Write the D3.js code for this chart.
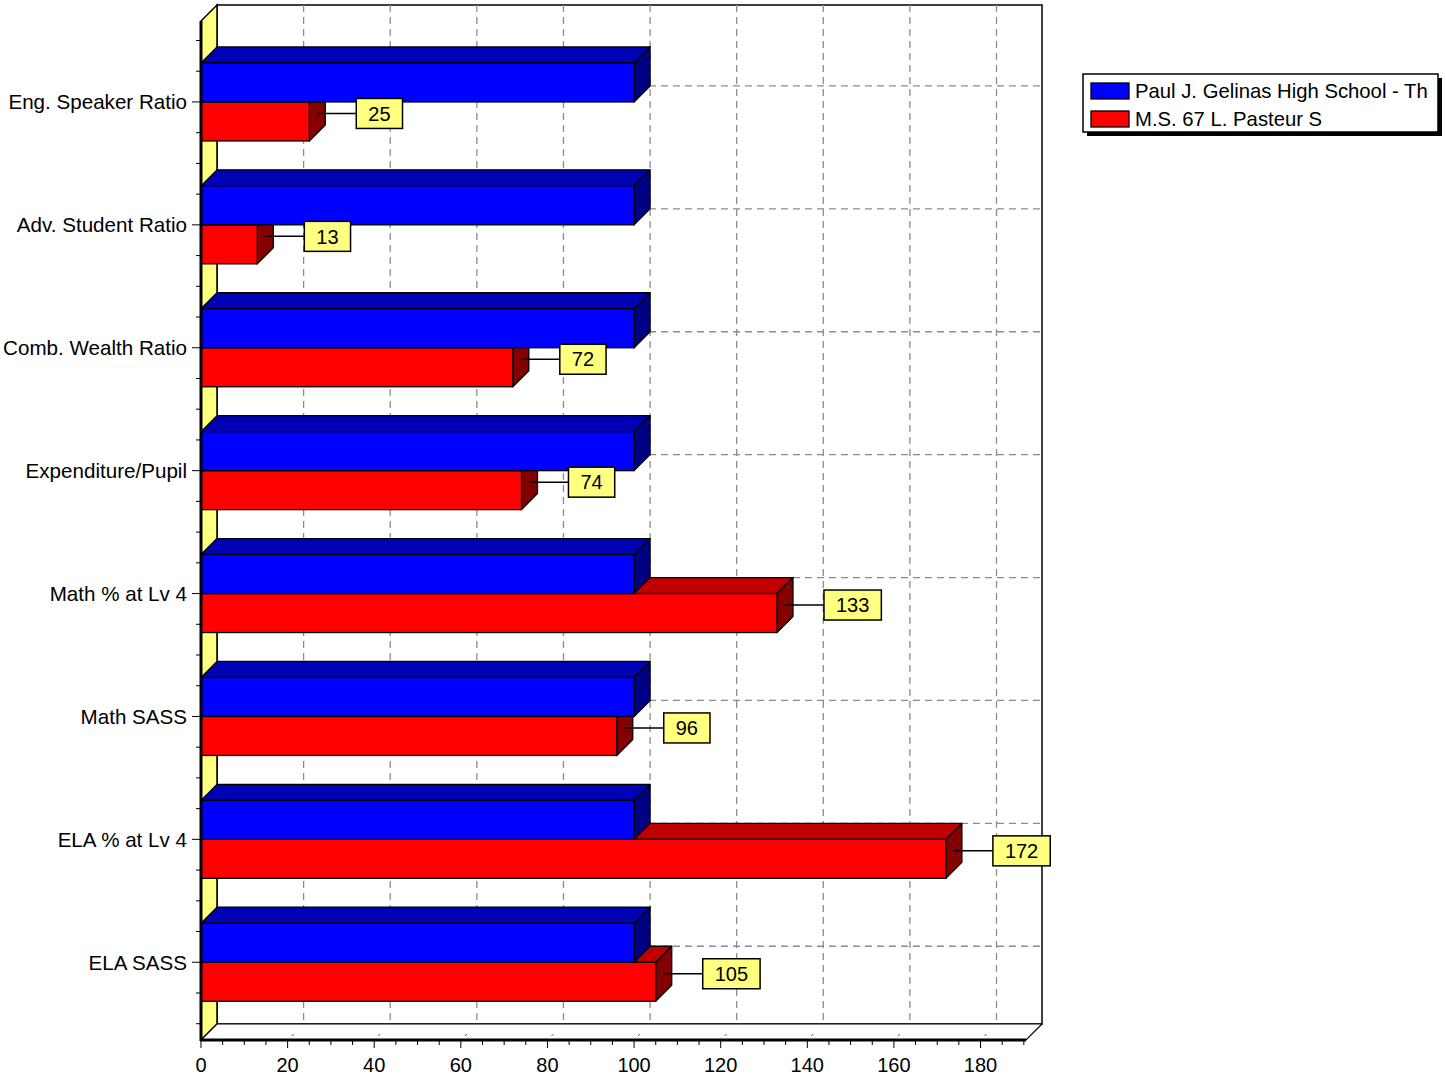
<!DOCTYPE html>
<html>
<head>
<meta charset="utf-8">
<script src="https://cdn.jsdelivr.net/npm/d3@7"></script>
<style>
  html, body { margin: 0; padding: 0; background: #fff; }
  svg { display: block; }
  text { font-family: Arial, "Liberation Sans", sans-serif; fill: #000; }
</style>
</head>
<body>
<svg id="chart" width="1446" height="1081"></svg>
<script>
// Category names (top to bottom)
const categories = [
  "Eng. Speaker Ratio",
  "Adv. Student Ratio",
  "Comb. Wealth Ratio",
  "Expenditure/Pupil",
  "Math % at Lv 4",
  "Math SASS",
  "ELA % at Lv 4",
  "ELA SASS"
];
// Series values
const gelinasValues = [100, 100, 100, 100, 100, 100, 100, 100];
const pasteurValues = [25, 13, 72, 74, 133, 96, 172, 105];
const seriesNames = ["Paul J. Gelinas High School - Th", "M.S. 67 L. Pasteur S"];
// Axis ticks
const xTicks = [0, 20, 40, 60, 80, 100, 120, 140, 160, 180];
const xMinorStep = 5;

const svg = d3.select("#chart");

// Layout
const D = 16;                 // 3D depth offset (right and up)
const plotL = 201, plotR = 1026, plotT = 21, plotB = 1040;
const x = d3.scaleLinear().domain([0, 190.5]).range([plotL, plotR]);
const y = d3.scaleBand().domain(categories).range([40.5, 1023.7]);
const barH = 39;
const center = c => y(c) + y.bandwidth() / 2;

const colors = {
  blue:  { front: "#0000ff", top: "#0000b4", side: "#000084" },
  red:   { front: "#ff0000", top: "#c00000", side: "#840000" }
};
const gridColor = "#8c8c8c";
const dash = "7,5";

// Back wall
svg.append("rect")
  .attr("x", plotL + D).attr("y", plotT - D)
  .attr("width", plotR - plotL).attr("height", plotB - plotT)
  .attr("fill", "#fff").attr("stroke", "#000").attr("stroke-width", 1.5);

// Back wall gridlines (vertical at value ticks, horizontal at category centers)
svg.append("g").selectAll("line")
  .data(xTicks.filter(t => t > 0))
  .join("line")
  .attr("x1", d => x(d) + D).attr("x2", d => x(d) + D)
  .attr("y1", plotT - D).attr("y2", plotB - D)
  .attr("stroke", gridColor).attr("stroke-width", 1.3).attr("stroke-dasharray", dash);

svg.append("g").selectAll("line")
  .data(categories)
  .join("line")
  .attr("x1", plotL + D).attr("x2", plotR + D)
  .attr("y1", d => center(d) - D).attr("y2", d => center(d) - D)
  .attr("stroke", gridColor).attr("stroke-width", 1.3).attr("stroke-dasharray", dash);

// Left wall
svg.append("path")
  .attr("d", `M${plotL},${plotT} L${plotL + D},${plotT - D} L${plotL + D},${plotB - D} L${plotL},${plotB} Z`)
  .attr("fill", "#ffff80").attr("stroke", "#000").attr("stroke-width", 1.5);

// Floor
svg.append("path")
  .attr("d", `M${plotL},${plotB} L${plotL + D},${plotB - D} L${plotR + D},${plotB - D} L${plotR},${plotB} Z`)
  .attr("fill", "#fff").attr("stroke", "#000").attr("stroke-width", 1.2);

// Small slanted tick marks on the floor
svg.append("g").selectAll("line")
  .data(xTicks.filter(t => t > 0))
  .join("line")
  .attr("x1", d => x(d) + 4).attr("y1", plotB - 4)
  .attr("x2", d => x(d) + 6).attr("y2", plotB - 6)
  .attr("stroke", "#555").attr("stroke-width", 1);

// 3D bar helper
function bar3d(g, v, yTop, col) {
  const x0 = x(0), x1 = x(v), y0 = yTop, y1 = yTop + barH;
  g.append("path")
    .attr("d", `M${x0},${y0} L${x0 + D},${y0 - D} L${x1 + D},${y0 - D} L${x1},${y0} Z`)
    .attr("fill", col.top).attr("stroke", "#000").attr("stroke-width", 1.3).attr("stroke-linejoin", "round");
  g.append("path")
    .attr("d", `M${x1},${y0} L${x1 + D},${y0 - D} L${x1 + D},${y1 - D} L${x1},${y1} Z`)
    .attr("fill", col.side).attr("stroke", "#000").attr("stroke-width", 1.3).attr("stroke-linejoin", "round");
  g.append("rect")
    .attr("x", x0).attr("y", y0).attr("width", x1 - x0).attr("height", barH)
    .attr("fill", col.front).attr("stroke", "#000").attr("stroke-width", 1.3);
}

const bars = svg.append("g");
categories.forEach((c, i) => {
  const g = bars.append("g");
  const cy = center(c);
  // lower series first so the upper bar covers its top face
  bar3d(g, pasteurValues[i], cy, colors.red);
  bar3d(g, gelinasValues[i], cy - barH, colors.blue);
});

// Value callouts for the second series
const callouts = svg.append("g");
categories.forEach((c, i) => {
  const v = pasteurValues[i];
  const cy = center(c) + barH / 2 - D / 2;
  const sx = x(v) + D / 2;
  const bx = x(v) + 47;
  const g = callouts.append("g");
  g.append("line")
    .attr("x1", sx).attr("x2", bx).attr("y1", cy).attr("y2", cy)
    .attr("stroke", "#000").attr("stroke-width", 1.5);
  const rect = g.append("rect");
  const t = g.append("text")
    .attr("y", cy).attr("dy", "0.36em")
    .attr("text-anchor", "middle")
    .style("font-size", "20px")
    .text(v);
  const w = t.node().getComputedTextLength() + 24;
  t.attr("x", bx + w / 2);
  rect.attr("x", bx).attr("y", cy - 15).attr("width", w).attr("height", 30)
    .attr("fill", "#ffff80").attr("stroke", "#000").attr("stroke-width", 1.5);
});

// Front axes
svg.append("line")
  .attr("x1", plotL).attr("x2", plotL).attr("y1", plotT).attr("y2", plotB + 1)
  .attr("stroke", "#000").attr("stroke-width", 3);
svg.append("line")
  .attr("x1", plotL - 1).attr("x2", plotR).attr("y1", plotB).attr("y2", plotB)
  .attr("stroke", "#000").attr("stroke-width", 3);

// Category ticks and labels
const step = y.step();
const catTicks = [];
categories.forEach(c => {
  for (let k = -2; k <= 2; k++) {
    const ty = center(c) + k * step / 4;
    if (k === -2 && c !== categories[0]) continue;
    if (ty >= plotT && ty <= plotB) catTicks.push({ y: ty, major: k === 0 });
  }
});
svg.append("g").selectAll("line")
  .data(catTicks)
  .join("line")
  .attr("x1", d => d.major ? plotL - 9 : plotL - 5).attr("x2", plotL)
  .attr("y1", d => d.y).attr("y2", d => d.y)
  .attr("stroke", "#000").attr("stroke-width", 1);

svg.append("g").selectAll("text")
  .data(categories)
  .join("text")
  .attr("x", 187).attr("y", d => center(d)).attr("dy", "0.36em")
  .attr("text-anchor", "end")
  .style("font-size", "20.6px")
  .text(d => d);

// Value axis ticks and labels
const minorTicks = d3.range(0, 190 + 0.001, xMinorStep).filter(v => v % 20 !== 0);
svg.append("g").selectAll("line")
  .data(minorTicks)
  .join("line")
  .attr("x1", d => x(d)).attr("x2", d => x(d))
  .attr("y1", plotB).attr("y2", plotB + 5)
  .attr("stroke", "#000").attr("stroke-width", 1);
svg.append("g").selectAll("line")
  .data(xTicks)
  .join("line")
  .attr("x1", d => x(d)).attr("x2", d => x(d))
  .attr("y1", plotB).attr("y2", plotB + 8)
  .attr("stroke", "#000").attr("stroke-width", 1);
svg.append("g").selectAll("text")
  .data(xTicks)
  .join("text")
  .attr("x", d => x(d)).attr("y", 1065).attr("dy", "0.36em")
  .attr("text-anchor", "middle")
  .style("font-size", "20px")
  .text(d => d);

// Legend
const legend = svg.append("g").attr("transform", "translate(1083,74)");
const lw = 355, lh = 58;
legend.append("rect").attr("x", 4).attr("y", 4).attr("width", lw).attr("height", lh).attr("fill", "#000");
legend.append("rect").attr("x", 0).attr("y", 0).attr("width", lw).attr("height", lh)
  .attr("fill", "#fff").attr("stroke", "#000").attr("stroke-width", 1.5);
const legendColors = [colors.blue.front, colors.red.front];
seriesNames.forEach((name, i) => {
  legend.append("rect")
    .attr("x", 8).attr("y", 9 + i * 28).attr("width", 38).attr("height", 16)
    .attr("fill", legendColors[i]).attr("stroke", "#000").attr("stroke-width", 1.3);
  legend.append("text")
    .attr("x", 52).attr("y", 17 + i * 28).attr("dy", "0.36em")
    .style("font-size", "20.3px")
    .text(name);
});
</script>
</body>
</html>
